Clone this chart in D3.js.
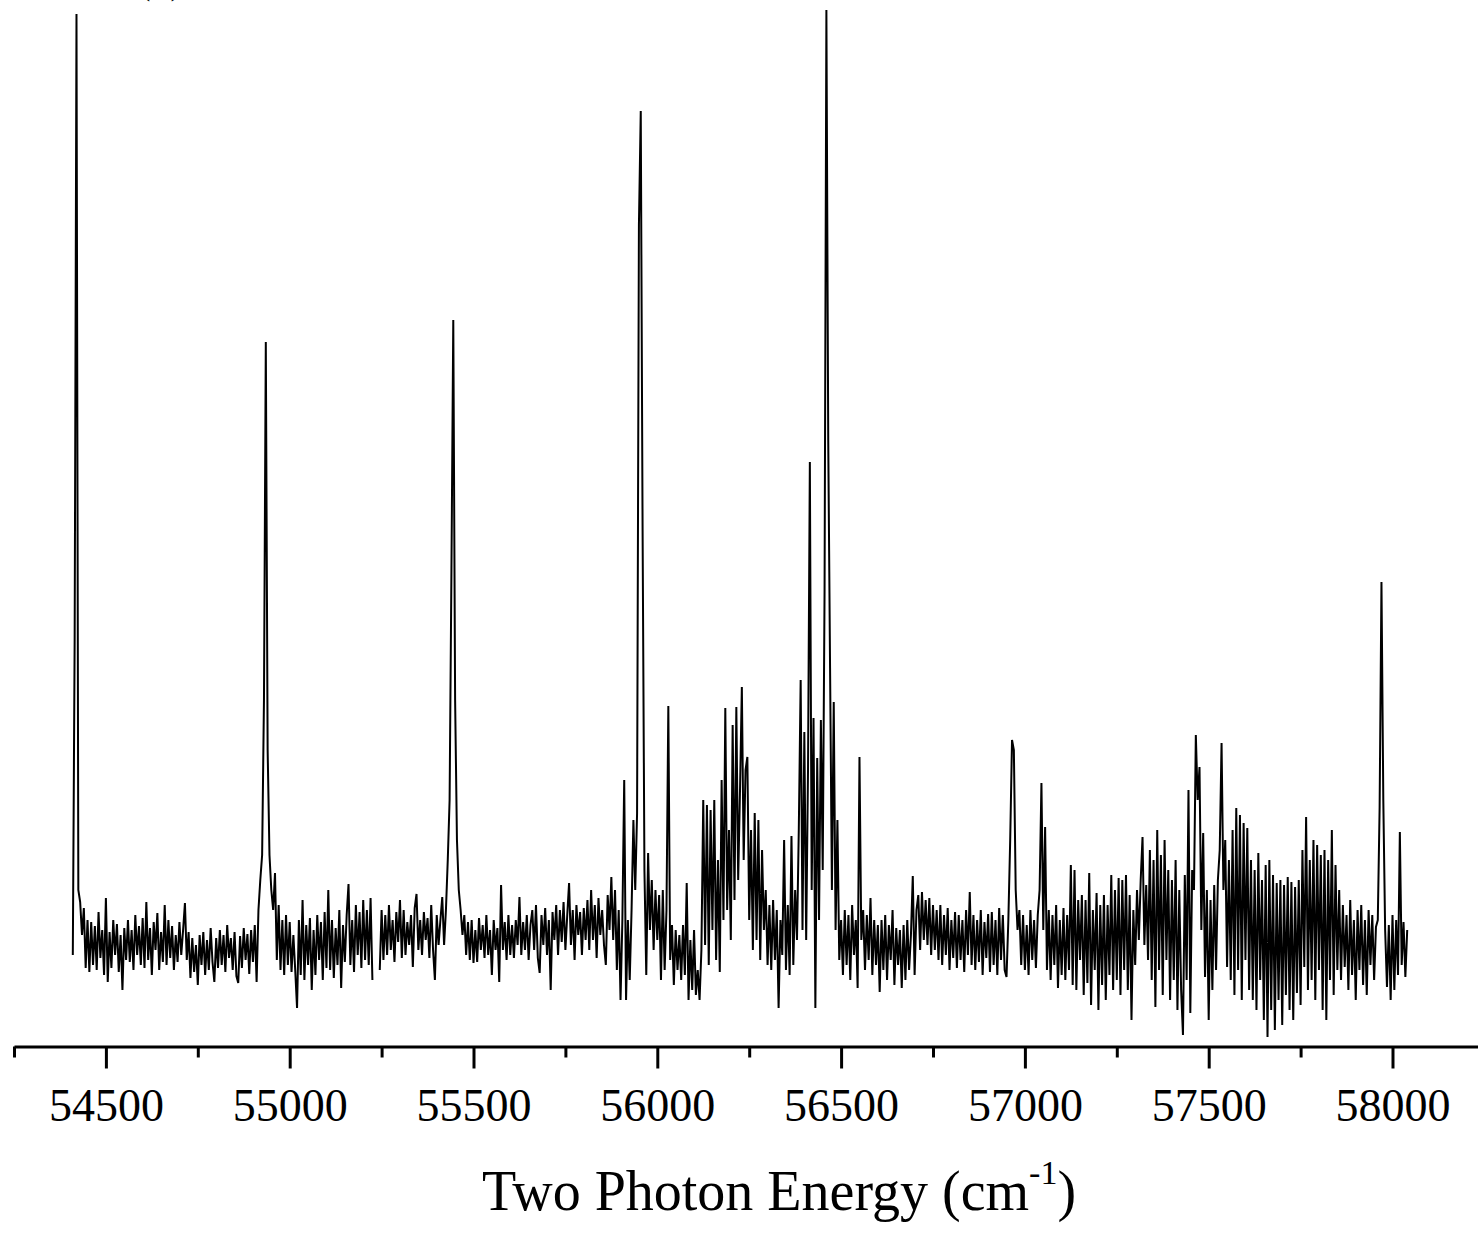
<!DOCTYPE html>
<html><head><meta charset="utf-8">
<script src="https://cdn.jsdelivr.net/npm/d3@7"></script>
<style>html,body{margin:0;padding:0;background:#fff;overflow:hidden;} svg{display:block;}</style>
</head><body>
<svg id="chart" width="1478" height="1243"></svg>
<script>
// Two-photon energy grid (cm^-1)
const energy = [
54410,54415,54420,54425,54430,54435,54440,54445,54450,54455,
54460,54465,54470,54475,54480,54485,54490,54495,54500,54505,
54510,54515,54520,54525,54530,54535,54540,54545,54550,54555,
54560,54565,54570,54575,54580,54585,54590,54595,54600,54605,
54610,54615,54620,54625,54630,54635,54640,54645,54650,54655,
54660,54665,54670,54675,54680,54685,54690,54695,54700,54705,
54710,54715,54720,54725,54730,54735,54740,54745,54750,54755,
54760,54765,54770,54775,54780,54785,54790,54795,54800,54805,
54810,54815,54820,54825,54830,54835,54840,54845,54850,54855,
54860,54865,54870,54875,54880,54885,54890,54895,54900,54905,
54910,54915,54920,54925,54930,54935,54940,54945,54950,54955,
54960,54965,54970,54975,54980,54985,54990,54995,55000,55005,
55010,55015,55020,55025,55030,55035,55040,55045,55050,55055,
55060,55065,55070,55075,55080,55085,55090,55095,55100,55105,
55110,55115,55120,55125,55130,55135,55140,55145,55150,55155,
55160,55165,55170,55175,55180,55185,55190,55195,55200,55205,
55210,55215,55220,55225,55230,55235,55240,55245,55250,55255,
55260,55265,55270,55275,55280,55285,55290,55295,55300,55305,
55310,55315,55320,55325,55330,55335,55340,55345,55350,55355,
55360,55365,55370,55375,55380,55385,55390,55395,55400,55405,
55410,55415,55420,55425,55430,55435,55440,55445,55450,55455,
55460,55465,55470,55475,55480,55485,55490,55495,55500,55505,
55510,55515,55520,55525,55530,55535,55540,55545,55550,55555,
55560,55565,55570,55575,55580,55585,55590,55595,55600,55605,
55610,55615,55620,55625,55630,55635,55640,55645,55650,55655,
55660,55665,55670,55675,55680,55685,55690,55695,55700,55705,
55710,55715,55720,55725,55730,55735,55740,55745,55750,55755,
55760,55765,55770,55775,55780,55785,55790,55795,55800,55805,
55810,55815,55820,55825,55830,55835,55840,55845,55850,55855,
55860,55865,55870,55875,55880,55885,55890,55895,55900,55905,
55910,55915,55920,55925,55930,55935,55940,55945,55950,55955,
55960,55965,55970,55975,55980,55985,55990,55995,56000,56005,
56010,56015,56020,56025,56030,56035,56040,56045,56050,56055,
56060,56065,56070,56075,56080,56085,56090,56095,56100,56105,
56110,56115,56120,56125,56130,56135,56140,56145,56150,56155,
56160,56165,56170,56175,56180,56185,56190,56195,56200,56205,
56210,56215,56220,56225,56230,56235,56240,56245,56250,56255,
56260,56265,56270,56275,56280,56285,56290,56295,56300,56305,
56310,56315,56320,56325,56330,56335,56340,56345,56350,56355,
56360,56365,56370,56375,56380,56385,56390,56395,56400,56405,
56410,56415,56420,56425,56430,56435,56440,56445,56450,56455,
56460,56465,56470,56475,56480,56485,56490,56495,56500,56505,
56510,56515,56520,56525,56530,56535,56540,56545,56550,56555,
56560,56565,56570,56575,56580,56585,56590,56595,56600,56605,
56610,56615,56620,56625,56630,56635,56640,56645,56650,56655,
56660,56665,56670,56675,56680,56685,56690,56695,56700,56705,
56710,56715,56720,56725,56730,56735,56740,56745,56750,56755,
56760,56765,56770,56775,56780,56785,56790,56795,56800,56805,
56810,56815,56820,56825,56830,56835,56840,56845,56850,56855,
56860,56865,56870,56875,56880,56885,56890,56895,56900,56905,
56910,56915,56920,56925,56930,56935,56940,56945,56950,56955,
56960,56965,56970,56975,56980,56985,56990,56995,57000,57005,
57010,57015,57020,57025,57030,57035,57040,57045,57050,57055,
57060,57065,57070,57075,57080,57085,57090,57095,57100,57105,
57110,57115,57120,57125,57130,57135,57140,57145,57150,57155,
57160,57165,57170,57175,57180,57185,57190,57195,57200,57205,
57210,57215,57220,57225,57230,57235,57240,57245,57250,57255,
57260,57265,57270,57275,57280,57285,57290,57295,57300,57305,
57310,57315,57320,57325,57330,57335,57340,57345,57350,57355,
57360,57365,57370,57375,57380,57385,57390,57395,57400,57405,
57410,57415,57420,57425,57430,57435,57440,57445,57450,57455,
57460,57465,57470,57475,57480,57485,57490,57495,57500,57505,
57510,57515,57520,57525,57530,57535,57540,57545,57550,57555,
57560,57565,57570,57575,57580,57585,57590,57595,57600,57605,
57610,57615,57620,57625,57630,57635,57640,57645,57650,57655,
57660,57665,57670,57675,57680,57685,57690,57695,57700,57705,
57710,57715,57720,57725,57730,57735,57740,57745,57750,57755,
57760,57765,57770,57775,57780,57785,57790,57795,57800,57805,
57810,57815,57820,57825,57830,57835,57840,57845,57850,57855,
57860,57865,57870,57875,57880,57885,57890,57895,57900,57905,
57910,57915,57920,57925,57930,57935,57940,57945,57950,57955,
57960,57965,57970,57975,57980,57985,57990,57995,58000,58005,
58010,58015,58020,58025,58030,58035,58040
];

// Signal intensity (arb. units), null = gap between scans
const intensity = [
-5,310,936,60,48,15,42,-18,30,-22,
28,-15,24,-20,38,-8,20,-25,52,-32,
18,-18,30,-5,26,-22,15,-40,22,-10,
30,-12,20,-20,35,-5,24,-15,32,-18,
48,-10,22,-25,28,0,37,-20,18,-12,
45,-15,30,-8,24,-20,15,-12,28,-5,
20,47,-10,18,-28,12,-22,5,-35,15,
-15,18,-25,10,-20,22,-12,-32,12,-18,
20,-15,15,-22,25,-8,12,-20,18,-26,
-33,14,-18,22,-10,16,-24,20,-12,25,
-32,40,70,95,250,608,200,95,60,40,
77,-10,45,-20,30,-25,35,-15,28,-22,
15,-20,-58,30,-25,50,-30,25,-15,32,
-40,20,-25,35,-10,28,-30,38,-18,60,
-20,30,-28,22,-15,40,-38,25,-12,35,
66,-15,30,-22,45,-5,38,-18,50,-10,
40,-15,52,-30,null,null,null,-20,40,-10,
35,-5,45,0,30,-12,38,8,50,-8,
40,-5,28,5,35,-17,42,56,0,30,
-5,38,10,32,-8,45,0,-30,35,5,
30,53,5,40,90,150,380,630,250,110,
60,40,15,35,-5,28,-10,30,-13,20,
-12,32,0,25,-8,35,-5,20,-25,30,
0,22,-32,65,0,28,-10,35,-5,25,
-8,30,5,53,-5,28,0,35,-10,25,
40,0,45,-8,-23,35,5,42,-5,30,
-40,38,10,45,-5,40,8,48,0,35,
67,5,40,-10,45,15,38,-5,42,10,
50,0,60,10,45,-8,52,15,40,5,
-15,55,20,73,10,60,-20,40,-50,30,
170,-50,30,-30,40,130,60,137,725,839,
420,80,-25,97,20,70,0,60,10,55,
-30,60,-20,40,244,-10,25,-35,20,-20,
15,-30,25,-25,67,-50,10,-40,20,-45,
-20,-50,0,150,5,145,-15,140,20,150,
-10,90,-22,170,30,242,40,120,10,225,
50,243,70,160,263,90,180,193,30,120,
0,137,10,130,-10,100,20,60,-15,45,
-20,50,-10,40,-58,30,-5,110,-20,45,
-25,114,-15,60,10,122,270,20,218,10,
180,488,60,232,-58,192,30,230,80,358,
940,510,282,60,248,20,130,-10,30,-25,
40,-15,35,-30,45,-5,30,-38,193,10,
40,-20,35,-10,52,-25,30,-15,25,-42,
30,-20,35,-30,25,-10,40,-35,22,-15,
20,-38,25,-30,30,-20,15,74,-25,40,
55,0,58,10,50,5,52,-5,45,0,
40,-10,45,-15,35,-5,42,-20,30,-8,
38,-18,35,-10,30,-22,40,-5,58,-15,
35,-20,30,-12,40,-25,28,-8,36,-22,
38,-15,30,-25,42,-10,35,-20,-27,30,
110,210,200,60,20,40,-15,35,-20,25,
-25,40,-10,30,-18,35,60,167,20,123,
-20,40,-30,35,-15,45,-38,30,-25,42,
-30,35,-20,85,-35,80,-40,50,-10,55,
-45,50,-33,77,-55,40,-20,57,-60,45,
-35,55,-50,45,-25,75,-40,60,-30,72,
-45,70,-20,75,-40,55,-70,40,-15,60,
10,70,113,5,65,-10,100,-30,90,-57,
120,-20,95,-45,110,-10,80,-50,70,-30,
90,-60,60,-40,-85,75,-30,160,-63,80,
60,215,150,183,20,117,-27,60,-70,50,
-40,65,-20,70,100,207,60,110,-17,90,
-30,120,-45,142,-20,135,-50,127,-10,122,
-40,90,-50,80,-60,97,-30,70,-70,85,
-87,90,-60,75,-80,67,-50,70,-75,65,
-45,73,-60,68,-70,63,-43,70,-55,100,
-17,133,-40,90,-30,110,-50,105,-20,95,
-60,100,-70,90,-30,120,-45,85,-20,60,
-30,45,-17,35,-40,50,-25,30,-50,40,
-20,45,-35,30,-45,40,-15,35,-30,23,
30,143,368,150,20,-37,25,-50,35,-40,
30,-25,118,-15,28,-27,20
];

const majorTicks = [54500, 55000, 55500, 56000, 56500, 57000, 57500, 58000];
const minorTicks = [54250, 54750, 55250, 55750, 56250, 56750, 57250, 57750];
const xTitle = "Two Photon Energy (cm";
const xTitleSup = "-1";
const xTitleEnd = ")";
const panelLabel = "(a)";

const svg = d3.select("#chart");
const serif = "'Liberation Serif', 'DejaVu Serif', serif";

const x = d3.scaleLinear().domain([54250, 58232.6]).range([14, 1478]);
const y = d3.scaleLinear().domain([-100, 940]).range([1050, 10]);

const points = energy.map((e, i) => [e, intensity[i]]);
const line = d3.line()
  .defined(d => d[1] !== null)
  .x(d => x(d[0]))
  .y(d => y(d[1]));

svg.append("path")
  .datum(points)
  .attr("fill", "none")
  .attr("stroke", "#000")
  .attr("stroke-width", 2)
  .attr("stroke-miterlimit", 2)
  .attr("d", line);

const axisY = 1046.5;

// minor ticks
const minorAxis = svg.append("g")
  .attr("transform", `translate(0,${axisY})`)
  .call(d3.axisBottom(x).tickValues(minorTicks).tickSize(11).tickSizeOuter(0).tickFormat(""));
minorAxis.select(".domain").remove();
minorAxis.selectAll(".tick line").attr("stroke", "#000").attr("stroke-width", 3);

// major ticks + labels
const majorAxis = svg.append("g")
  .attr("transform", `translate(0,${axisY})`)
  .call(d3.axisBottom(x).tickValues(majorTicks).tickSize(22).tickSizeOuter(0).tickFormat(d3.format("d")));
majorAxis.select(".domain").attr("stroke", "#000").attr("stroke-width", 3);
majorAxis.selectAll(".tick line").attr("stroke", "#000").attr("stroke-width", 3);
majorAxis.selectAll(".tick text")
  .attr("y", 74).attr("dy", 0)
  .attr("fill", "#000")
  .style("font-family", serif)
  .style("font-size", "46px");

// axis title
const title = svg.append("text")
  .attr("x", 779).attr("y", 1210)
  .attr("text-anchor", "middle")
  .style("font-family", serif)
  .style("font-size", "56px")
  .attr("fill", "#000");
title.append("tspan").text(xTitle);
title.append("tspan").attr("dy", -26).style("font-size", "34px").text(xTitleSup);
title.append("tspan").attr("dy", 26).text(xTitleEnd);

// panel label (mostly cropped above the top edge, as in the source figure)
svg.append("text")
  .attr("x", 136).attr("y", -8)
  .style("font-family", serif)
  .style("font-size", "44px")
  .attr("fill", "#000")
  .text(panelLabel);
</script>
</body></html>
